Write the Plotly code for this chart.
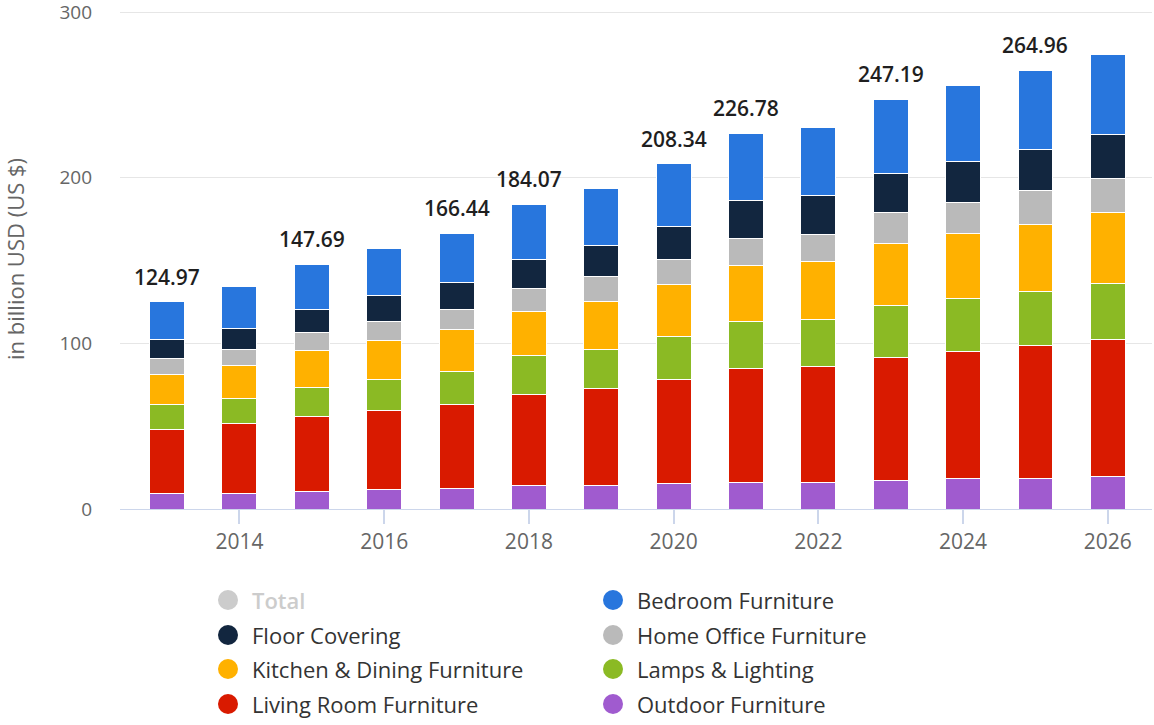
import plotly.graph_objects as go

years = list(range(2013, 2027))

outdoor = [9.4, 9.3, 10.4, 11.5, 12.1, 14.2, 14.2, 15.2, 16.2, 16.3, 17.2, 18.3, 18.3, 19.8]
living_room = [38.8, 42.2, 45.5, 48.2, 51.1, 54.7, 58.4, 63.0, 68.7, 69.8, 74.5, 77.0, 80.4, 82.8]
lamps = [15.1, 15.1, 17.7, 18.6, 19.8, 23.6, 23.4, 25.7, 28.1, 28.1, 31.3, 31.8, 32.6, 33.7]
kitchen = [17.6, 19.9, 21.9, 23.6, 25.4, 26.5, 29.2, 31.7, 33.9, 35.0, 37.2, 39.3, 40.7, 42.8]
home_office = [9.8, 9.9, 11.1, 11.5, 12.1, 14.2, 15.2, 15.2, 16.4, 16.5, 18.9, 18.9, 20.2, 20.2]
floor_covering = [11.6, 12.8, 14.0, 15.6, 16.3, 17.7, 18.6, 19.8, 23.1, 23.5, 23.3, 24.3, 25.1, 27.0]
bedroom = [22.67, 25.4, 27.09, 28.4, 29.64, 33.17, 34.4, 37.74, 40.38, 41.3, 44.79, 46.2, 47.66, 48.3]

total_labels = [124.97, None, 147.69, None, 166.44, 184.07, None, 208.34, 226.78, None, 247.19, None, 264.96, None]

y_ticks = [0, 100, 200, 300]

series = [
    ("Outdoor Furniture", outdoor, "#A05BCF"),
    ("Living Room Furniture", living_room, "#D91A00"),
    ("Lamps & Lighting", lamps, "#8BBA24"),
    ("Kitchen & Dining Furniture", kitchen, "#FFB100"),
    ("Home Office Furniture", home_office, "#BABABA"),
    ("Floor Covering", floor_covering, "#12263F"),
    ("Bedroom Furniture", bedroom, "#2876DD"),
]

legend_col1 = ["Total", "Floor Covering", "Kitchen & Dining Furniture", "Living Room Furniture"]
legend_col2 = ["Bedroom Furniture", "Home Office Furniture", "Lamps & Lighting", "Outdoor Furniture"]

color_of = {name: c for name, _, c in series}
color_of["Total"] = "#CCCCCC"

FONT = "Open Sans"

fig = go.Figure()
for name, vals, color in series:
    fig.add_trace(go.Bar(
        x=years, y=vals, name=name, showlegend=False,
        marker=dict(color=color, line=dict(color="white", width=1)),
    ))

for yr, lab in zip(years, total_labels):
    if lab is None:
        continue
    fig.add_annotation(
        x=yr, y=lab, xref="x", yref="y", text=f"{lab:.2f}", showarrow=False,
        yanchor="bottom", yshift=9,
        font=dict(family=FONT, size=21, color="#1f1f1f", weight=600),
    )

PX_PER_100 = (509 - 12) / 3.0
EXTRA = 3  # px of headroom above the 300 gridline
y_top = 300 + EXTRA * 100 / PX_PER_100

W, H = 1154, 725
L, T = 120, 12 - EXTRA
B = H - 509
R = W - 1152
pw, ph = W - L - R, H - T - B

def px_x(px):
    return (px - L) / pw

def px_y(py):
    return (H - B - py) / ph

rows_y = [600, 635, 669, 704]
for col_names, mx in ((legend_col1, 228), (legend_col2, 613)):
    for name, ry in zip(col_names, rows_y):
        c = color_of[name]
        fig.add_shape(
            type="circle", xref="paper", yref="paper",
            xsizemode="pixel", ysizemode="pixel",
            xanchor=px_x(mx), yanchor=px_y(ry),
            x0=-10, x1=10, y0=-10, y1=10,
            fillcolor=c, line=dict(width=0),
        )
        fig.add_annotation(
            x=px_x(mx + 22), y=px_y(ry), xref="paper", yref="paper",
            text=name, showarrow=False, xanchor="left", yanchor="middle",
            font=dict(family=FONT, size=22, color="#CCCCCC" if name == "Total" else "#333333",
                      weight=600 if name == "Total" else 400),
        )

fig.update_layout(
    width=W, height=H,
    margin=dict(l=L, r=R, t=T, b=B, autoexpand=False),
    barmode="stack", bargap=0.517,
    plot_bgcolor="white", paper_bgcolor="white",
    showlegend=False,
    font=dict(family=FONT, color="#666666"),
)
fig.update_xaxes(
    range=[2012.35, 2026.61], automargin=False,
    tickmode="linear", tick0=2014, dtick=2,
    showgrid=False, showline=True, linecolor="#CCD6EB", linewidth=1,
    ticks="outside", ticklen=14, tickcolor="#CCD6EB", tickwidth=1.5,
    tickfont=dict(family=FONT, size=21, color="#666666"),
    zeroline=False,
)
fig.update_yaxes(
    range=[0, y_top], tickmode="array", tickvals=y_ticks, automargin=False,
    showgrid=True, gridcolor="#E6E6E6", gridwidth=1,
    zeroline=False, showline=False,
    ticks="", ticklabelstandoff=27, ticklabeloverflow="allow",
    tickfont=dict(family=FONT, size=19, color="#666666"),
    title=dict(text="in billion USD (US $)", standoff=36,
               font=dict(family=FONT, size=22, color="#666666")),
)

fig.write_html(
    "out.html",
    config={"displayModeBar": False},
    post_script="document.body.style.margin='0';document.body.style.overflow='hidden';",
)
